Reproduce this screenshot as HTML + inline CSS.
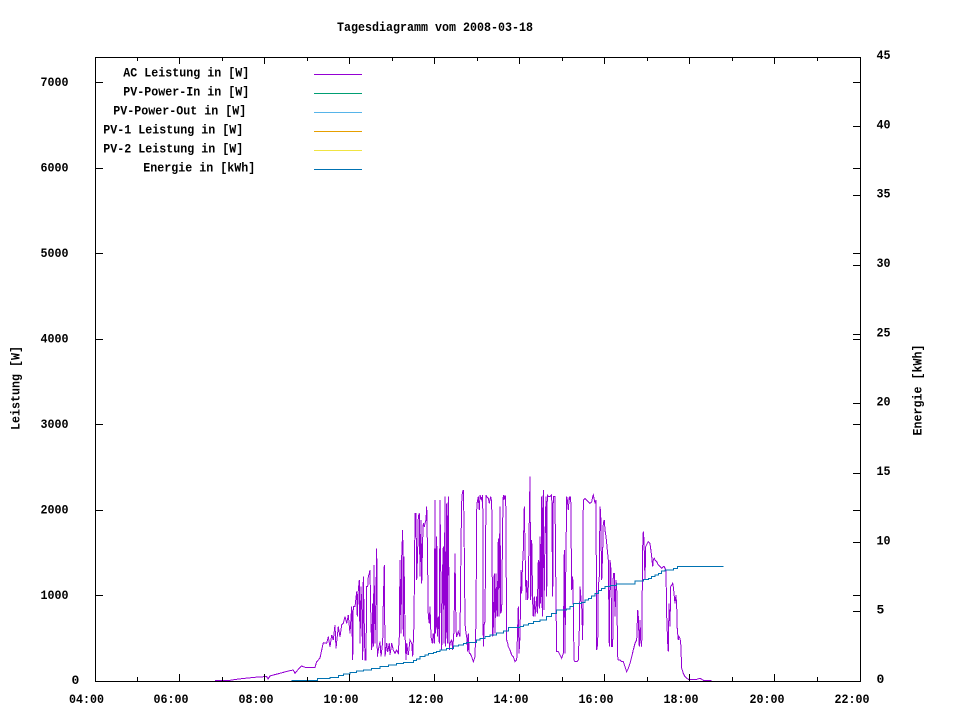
<!DOCTYPE html>
<html>
<head>
<meta charset="utf-8">
<style>
html,body{margin:0;padding:0;background:#fff;}
svg{display:block;}
text{font-family:"Liberation Mono","DejaVu Sans Mono",monospace;font-weight:bold;font-size:13px;fill:#000;}
</style>
</head>
<body>
<svg width="960" height="720" viewBox="0 0 960 720" xmlns="http://www.w3.org/2000/svg">
<rect x="0" y="0" width="960" height="720" fill="#fff"/>

<!-- Title -->
<text x="337" y="31" textLength="196" lengthAdjust="spacingAndGlyphs">Tagesdiagramm vom 2008-03-18</text>

<!-- Data: AC Leistung (purple) -->
<polyline fill="none" stroke="#9400d3" stroke-width="1" shape-rendering="crispEdges" points="
215,680.3 230,680.3 236.7,679.3 245,678.3 255,677.3 264,676.7 266.7,676.7 268,679 270,676 273.3,675 280,673.3 288.3,671 293.3,670 295,673.3 298.3,669.3 301.7,666 305,667.3
315,667.3 316.7,661.7 318.3,660 320,658 321.7,650 323.3,642.7 326.7,643.3 328.3,636.7 330,646.7 331.7,635 333.3,640 335,625 336,648.3 338.3,626.7 340,636.7 341.7,625 343.3,623.3 345,616.7 346.7,623.3 348.3,615 350,633.3 351.7,606.7 352.7,660 353.3,606.7 355,606.7 356.7,591.7 357.3,616.7 358.3,590 359.3,580 360,643.3 361,586.7 361.7,606.7 362.7,660 363.3,576.7 365,660 366,660 366.7,586.7 367.7,586.7 368.3,576.7 369.3,573.3 370,570 370.7,610 371.7,650 372.7,603.3 373.3,646.7 374,565 375,643.3 376,593.3 376.7,548.3 377.3,656.7 378.3,650 380,641.7 381,656.7 382.7,641.7 383.3,603.3 384.3,565 385,656.7 386.7,643.3 387.7,651.7 389.3,643.3 390,655 391.7,643.3 393.3,650 395,653.3 396.7,650 398.3,653.3 399.3,636.7 400,560 401,633.3 401.7,556.7 402.7,530 403.3,636.7 404,556.7 405,633.3 406,660 406.7,643.3 408.3,655 410,640 411.7,643.3 412.7,656.7 414,623.3 415,513.3 416,513.3 416.7,580 417.7,550 418.3,516.7 419.3,513.3 420,576.7 421,520 421.7,583.3 422.7,538.3 423.3,523.3 424.3,526.7 425,523.3 426,520 426.7,506.7 427.3,540 428.3,616.7 429.3,623.3 430,606.7 431,636.7 432.3,643.3 433.3,633.3 434.3,643.3 435,500 435.7,633.3 436.7,536.7 437.3,636.7 438.3,616.7 439.3,643.3 440,500 440.7,566.7 441.7,650 442.7,566.7 443.3,546.7 444,643.3 445,496.7 445.7,646.7 446.7,503.3 447.3,643.3 448.3,496.7 449.3,650 450,643.3 451.7,640 452.7,650 454,630 455,553.3 456,630 456.7,636.7 458.3,631.7 460,636.7 461,543.3 461.7,501.7 462.3,493.3 463.3,490 464,521.7 465,623.3 466,633.3 466.7,636.7 467.7,651.7 468.3,633.3 469.3,653.3 470,653.3 471.7,656.7 473.3,661.7 475,656.7 476,620 476.7,510 477.3,501.7 478.3,496.7 479.3,510 480,495 481.7,500 482.7,495 483.3,646.7 484.3,623.3 485,621.7 486,495 486.7,496.7 488.3,498.3 489.3,503.3 490.7,496.7 491.7,501.7 492.7,636.7 493.3,626.7 494.3,573.3 495,633.3 496,573.3 496.7,610 497.3,616.7 498.3,538.3 499,616.7 500,506.7 500.7,613.3 501.7,610 502.7,520 503.3,495 504,500 505,495 505.7,498.3 506.7,640 507.7,643.3 508.3,646.7 510,650 511.7,655 513.3,656.7 515,661.7 516.7,660 517.7,626.7 518.3,606.7 519,653.3 520,636.7 521,570 521.7,593.3 522.3,570 523.3,550 524.3,506.7 525,546.7 526,600 526.7,580 527.7,600 528.3,586.7 529.3,520 530,476.7 530.7,600 531.7,540 532.7,603.3 533.3,616.7 534.3,596.7 535,616.7 536,603.3 536.7,596.7 537.3,613.3 538.3,560 539.3,608.3 540,536.7 540.7,603.3 541.7,496.7 542.3,616.7 543.3,490 544,610 545,536.7 546,496.7 546.7,596.7 547.3,495 548.3,496.7 550,496.7 551.7,495 552.7,596.7 553.3,496.7 555,496.7 556,603.3 556.7,651.7 558.3,651.7 560,655 561.7,658.3 563.3,653.3 564.3,550 565,653.3 565.7,576.7 566.7,496.7 567.3,500 568.3,510 569.3,496.7 570,500 570.7,496.7 571.7,590 572.7,576.7 573.3,606.7 574,660 575,661.7 576.7,661.7 578.3,660 579.3,630 580,586.7 581.7,606.7 582.7,640 583.3,500 585,498.3 586.7,500 588.3,501.7 590,503.3 591.7,501.7 592.7,496.7 593.3,495 595,503.3 596,500 596.7,650 597.7,643.3 598.3,586.7 599.3,576.7 600,506.7 600.7,513.3 601.7,580 602.7,550 603.3,523.3 604.3,520 605,530 606,536.7 606.7,543.3 607.3,550 608.3,560 609.3,646.7 610,560 611,570 611.7,646.7 612.7,646.7 613.3,573.3 614.3,573.3 615,616.7 616,580 616.7,586.7 617.7,656.7 618.3,660 620,660 621.7,661.7 623.3,661.7 625,666.7 626.7,671.7 628.3,668.3 630,663.3 631.7,656.7 633.3,650 635,643.3 636.7,640 637.7,610 638.3,616.7 639.3,646.7 640,620 640.7,640 641.7,646.7 642.7,546.7 643.3,531.7 644,540 645,580 645.7,546.7 647.3,543.3 648.3,541.7 650,543.3
651.7,556.7 652.7,566.7 653.3,560 654.3,558.3 655,560 656.7,561.7 658.3,565 660,566.7 661.7,568.3 663.3,566.7 664.3,566.7 665,568.3 666,570 666.7,616.7 667.7,643.3 668.3,651.7 669,603.3 670,626.7 670.7,586.7 671.7,585 672.7,583.3 673.3,586.7 674,593.3 675,603.3 676,595 676.7,606.7 677.3,630 678.3,640 679,636.7 680,638.3 680.7,643.3 681.7,668.3 683.3,673.3 685,676.7 686.7,678.3 688.3,679.3 691.7,679.3 696.7,679.3 700,678.3 701.7,679.3 703.3,680.3 711.7,680.3"/>

<!-- Data: Energie (blue step) -->
<path fill="none" stroke="#0072b2" stroke-width="1" shape-rendering="crispEdges" d="M291.7,680.5 H317.3 V678.3 H330 V677.3 H338.3 V675.7 H343.3 V674 H350 V672.7 H356.7 V671 H363.3 V670 H371.7 V668.3 H380 V666.7 H388.3 V665 H396.7 V663.3 H403.3 V662.7 H413.3 V660.7 H416.7 V659 H420 V656.7 H425 V655 H428.3 V653.3 H433.3 V652.3 H436.7 V651.7 H440 V650 H446.7 V648.3 H453.3 V646 H458.3 V645 H463.3 V643.7 H466.7 V642.7 H476.7 V640 H480 V638.3 H485 V636.7 H490 V635 H496.7 V633 H503.3 V631 H508.3 V627.3 H520 V626.7 H523.3 V625 H528.3 V623.3 H533.3 V621.7 H540 V620 H546.7 V616.7 H551.7 V613.3 H556.7 V610 H566.7 V609 H570 V606.7 H573.3 V603.3 H581.7 V602.7 H585 V600 H588.3 V598.3 H591.7 V596 H595 V593.3 H598.3 V590.7 H601.7 V588.3 H605 V586.7 H610 V585.3 H616.7 V584 H635 V581 H643.3 V579.3 H648.3 V578.3 H651.7 V576.7 H655 V575 H658.3 V573.3 H661.7 V571 H665 V570 H673.3 V568.7 H677.3 V566.7 H723.3"/>

<!-- Border -->
<rect x="95.5" y="57.5" width="765" height="624" fill="none" stroke="#000" stroke-width="1"/>

<!-- Ticks -->
<path fill="none" stroke="#000" stroke-width="1" d="
M179.5,681 V674 M264.5,681 V674 M349.5,681 V674 M434.5,681 V674 M519.5,681 V674 M604.5,681 V674 M689.5,681 V674 M774.5,681 V674
M137.5,681 V677 M222.5,681 V677 M307.5,681 V677 M392.5,681 V677 M477.5,681 V677 M562.5,681 V677 M647.5,681 V677 M732.5,681 V677 M817.5,681 V677
M179.5,58 V64 M264.5,58 V64 M349.5,58 V64 M434.5,58 V64 M519.5,58 V64 M604.5,58 V64 M689.5,58 V64 M774.5,58 V64
M137.5,58 V61 M222.5,58 V61 M307.5,58 V61 M392.5,58 V61 M477.5,58 V61 M562.5,58 V61 M647.5,58 V61 M732.5,58 V61 M817.5,58 V61
M96,595.5 H103 M96,510.5 H103 M96,424.5 H103 M96,339.5 H103 M96,253.5 H103 M96,168.5 H103 M96,82.5 H103
M860,595.5 H853 M860,510.5 H853 M860,424.5 H853 M860,339.5 H853 M860,253.5 H853 M860,168.5 H853 M860,82.5 H853
M860,611.5 H853 M860,542.5 H853 M860,473.5 H853 M860,403.5 H853 M860,334.5 H853 M860,265.5 H853 M860,195.5 H853 M860,126.5 H853
"/>

<!-- Left y labels -->
<text x="71.5" y="684">0</text>
<text x="40.5" y="599" textLength="28" lengthAdjust="spacingAndGlyphs">1000</text>
<text x="40.5" y="513.5" textLength="28" lengthAdjust="spacingAndGlyphs">2000</text>
<text x="40.5" y="428" textLength="28" lengthAdjust="spacingAndGlyphs">3000</text>
<text x="40.5" y="342.5" textLength="28" lengthAdjust="spacingAndGlyphs">4000</text>
<text x="40.5" y="257" textLength="28" lengthAdjust="spacingAndGlyphs">5000</text>
<text x="40.5" y="171.5" textLength="28" lengthAdjust="spacingAndGlyphs">6000</text>
<text x="40.5" y="86" textLength="28" lengthAdjust="spacingAndGlyphs">7000</text>

<!-- Right y2 labels -->
<text x="876.5" y="683">0</text>
<text x="876.5" y="613.7">5</text>
<text x="876.5" y="544.3" textLength="14" lengthAdjust="spacingAndGlyphs">10</text>
<text x="876.5" y="475" textLength="14" lengthAdjust="spacingAndGlyphs">15</text>
<text x="876.5" y="405.7" textLength="14" lengthAdjust="spacingAndGlyphs">20</text>
<text x="876.5" y="336.3" textLength="14" lengthAdjust="spacingAndGlyphs">25</text>
<text x="876.5" y="267" textLength="14" lengthAdjust="spacingAndGlyphs">30</text>
<text x="876.5" y="197.7" textLength="14" lengthAdjust="spacingAndGlyphs">35</text>
<text x="876.5" y="128.3" textLength="14" lengthAdjust="spacingAndGlyphs">40</text>
<text x="876.5" y="59" textLength="14" lengthAdjust="spacingAndGlyphs">45</text>

<!-- X labels -->
<text x="69" y="703" textLength="35" lengthAdjust="spacingAndGlyphs">04:00</text>
<text x="153.5" y="703" textLength="35" lengthAdjust="spacingAndGlyphs">06:00</text>
<text x="238.5" y="703" textLength="35" lengthAdjust="spacingAndGlyphs">08:00</text>
<text x="323.5" y="703" textLength="35" lengthAdjust="spacingAndGlyphs">10:00</text>
<text x="408.5" y="703" textLength="35" lengthAdjust="spacingAndGlyphs">12:00</text>
<text x="493.5" y="703" textLength="35" lengthAdjust="spacingAndGlyphs">14:00</text>
<text x="578.5" y="703" textLength="35" lengthAdjust="spacingAndGlyphs">16:00</text>
<text x="663.5" y="703" textLength="35" lengthAdjust="spacingAndGlyphs">18:00</text>
<text x="749.5" y="703" textLength="35" lengthAdjust="spacingAndGlyphs">20:00</text>
<text x="834.5" y="703" textLength="35" lengthAdjust="spacingAndGlyphs">22:00</text>

<!-- Axis titles -->
<text transform="translate(19.5,388) rotate(-90)" text-anchor="middle" textLength="84" lengthAdjust="spacingAndGlyphs">Leistung [W]</text>
<text transform="translate(921.5,390) rotate(-90)" text-anchor="middle" textLength="91" lengthAdjust="spacingAndGlyphs">Energie [kWh]</text>

<!-- Legend -->
<text x="123.3" y="76.7" textLength="126" lengthAdjust="spacingAndGlyphs">AC Leistung in [W]</text>
<text x="123.3" y="95.7" textLength="126" lengthAdjust="spacingAndGlyphs">PV-Power-In in [W]</text>
<text x="113.3" y="114.7" textLength="133" lengthAdjust="spacingAndGlyphs">PV-Power-Out in [W]</text>
<text x="103.3" y="133.7" textLength="140" lengthAdjust="spacingAndGlyphs">PV-1 Leistung in [W]</text>
<text x="103.3" y="152.7" textLength="140" lengthAdjust="spacingAndGlyphs">PV-2 Leistung in [W]</text>
<text x="143.3" y="171.7" textLength="112" lengthAdjust="spacingAndGlyphs">Energie in [kWh]</text>

<line x1="314" y1="74.5" x2="362" y2="74.5" stroke="#9400d3" stroke-width="1"/>
<line x1="314" y1="93.5" x2="362" y2="93.5" stroke="#009e73" stroke-width="1"/>
<line x1="314" y1="112.5" x2="362" y2="112.5" stroke="#56b4e9" stroke-width="1"/>
<line x1="314" y1="131.5" x2="362" y2="131.5" stroke="#e69f00" stroke-width="1"/>
<line x1="314" y1="150.5" x2="362" y2="150.5" stroke="#f0e442" stroke-width="1"/>
<line x1="314" y1="169.5" x2="362" y2="169.5" stroke="#0072b2" stroke-width="1"/>
</svg>
</body>
</html>
